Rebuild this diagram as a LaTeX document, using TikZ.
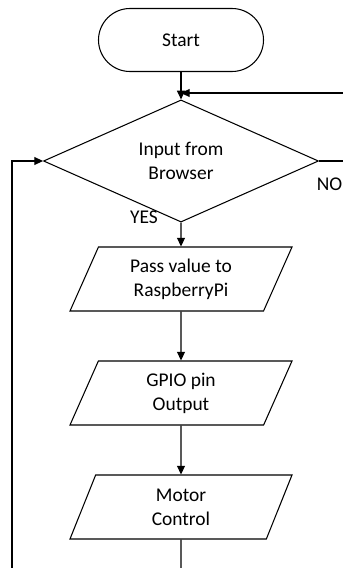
\documentclass[tikz,border=0pt]{standalone}
\usepackage{fontspec}
\setmainfont{Carlito}
\usetikzlibrary{shapes.geometric,arrows.meta}

\begin{document}
\begin{tikzpicture}[x=0.03cm, y=-0.03cm,
	flowLine/.style={line width=0.9pt},
	flowArrow/.style={flowLine, -{Triangle[length=0.26cm, width=0.24cm]}},
	flowText/.style={font=\fontsize{16.6pt}{20.5pt}\selectfont, align=center},
	ioBox/.style={trapezium, draw, flowLine, flowText, trapezium left angle=55, trapezium right angle=125, trapezium stretches body, minimum width=6.66cm, minimum height=1.92cm, inner sep=0pt}]
	\useasboundingbox (0,0) rectangle (343,568);

	\node[rectangle, draw, flowLine, flowText, rounded corners=0.945cm, minimum width=4.95cm, minimum height=1.89cm](start) at (181,40){Start};
	\node[diamond, draw, flowLine, flowText, minimum width=8.25cm, minimum height=2.34cm, inner sep=0pt](input) at (181,161){Input from\\Browser};

	\node[ioBox](passVal) at (181,279){Pass value to\\RaspberryPi};
	\node[ioBox](gpioOut) at (181,393){GPIO pin\\Output};
	\node[ioBox](motorCtrl) at (181,507){Motor\\Control};

	\node[flowText, anchor=east, inner sep=0.5pt](noLbl) at (343,184){NO};
	\node[flowText](yesLbl) at (144,217){YES};

	\coordinate(retRight) at (343,93);
	\coordinate(retJoin) at (181,93);
	\coordinate(noRight) at (343,161);
	\coordinate(loopBtm) at (12,568);
	\coordinate(ctrlBtm) at (181,568);

	\draw[flowArrow](start.south) -- (input.north);
	\draw[flowArrow](retRight) -- (retJoin);
	\draw[flowLine](input.east) -- (noRight);
	\draw[flowArrow](input.south) -- (passVal.north);
	\draw[flowArrow](passVal.south) -- (gpioOut.north);
	\draw[flowArrow](gpioOut.south) -- (motorCtrl.north);
	\draw[flowLine](motorCtrl.south) -- (ctrlBtm);
	\draw[flowArrow](loopBtm) |- (input.west);
\end{tikzpicture}
\end{document}
